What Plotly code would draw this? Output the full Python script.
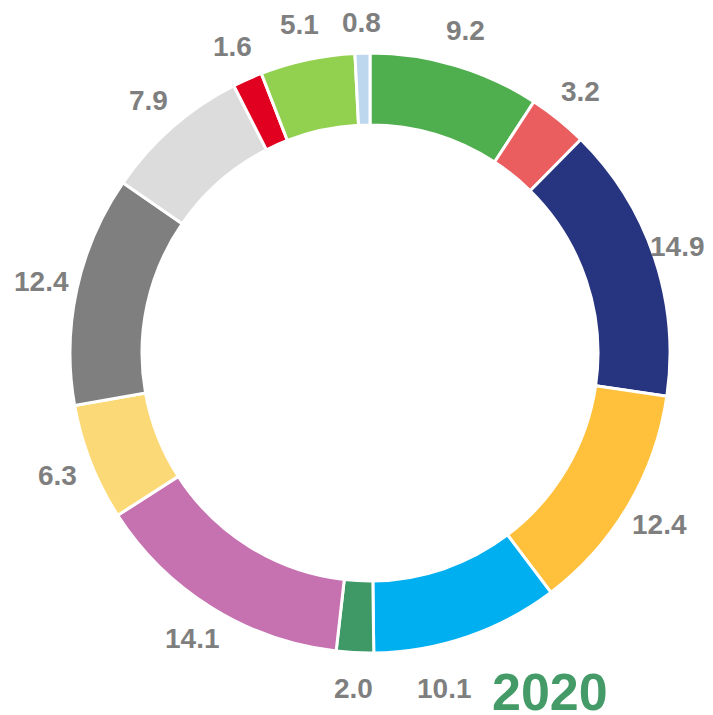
import math
import plotly.graph_objects as go

W, H = 713, 715
OFF = 8  # page body offset of the figure inside the browser window

categories = ["A", "B", "C", "D", "E", "F", "G", "H", "I", "J", "K", "L", "M"]
values = [9.2, 3.2, 14.9, 12.4, 10.1, 2.0, 14.1, 6.3, 12.4, 7.9, 1.6, 5.1, 0.8]
value_labels = ["9.2", "3.2", "14.9", "12.4", "10.1", "2.0", "14.1", "6.3", "12.4", "7.9", "1.6", "5.1", "0.8"]
colors = ["#4FAE4E", "#EB5E5F", "#27347F", "#FFC13C", "#00AFEF", "#3F9966",
          "#C672B0", "#FCD977", "#7F7F7F", "#DCDCDC", "#E10020", "#92D050", "#BDD7EE"]
year_label = "2020"

# layout (screen pixels)
cx, cy, R = 370, 353, 300
label_r = 336
label_size = 28
year_size = 52
year_cx, year_cy = 550, 692
font_family = "Liberation Sans, Arial, sans-serif"


def to_paper(sx, sy):
    return (sx - OFF) / W, 1 - (sy - OFF) / H


def text_width(s, size):
    return sum(0.278 if ch == "." else 0.556 for ch in s) * size


x0p, y1p = to_paper(cx - R, cy - R)
x1p, y0p = to_paper(cx + R, cy + R)

fig = go.Figure(go.Pie(
    labels=categories,
    values=values,
    textinfo="none",
    sort=False,
    direction="clockwise",
    rotation=0,
    hole=0.76,
    marker=dict(colors=colors, line=dict(color="#FFFFFF", width=3)),
    showlegend=False,
    hoverinfo="label+value",
    domain=dict(x=[x0p, x1p], y=[y0p, y1p]),
))

# box of the year caption, used to keep value labels clear of it
yw = text_width(year_label, year_size)
year_box = (year_cx - yw / 2, year_cy - 0.38 * year_size, year_cx + yw / 2, year_cy + 0.38 * year_size)

total = sum(values)
cum = 0.0
for v, lab in zip(values, value_labels):
    mid = (cum + v / 2) / total
    cum += v
    theta = 2 * math.pi * mid
    sx = cx + label_r * math.sin(theta)
    sy = cy - label_r * math.cos(theta)
    hw = text_width(lab, label_size) / 2
    hh = 0.36 * label_size
    # keep inside the window
    sx = min(max(sx, hw + 4), 713 - hw - 8)
    sy = max(sy, hh + 12)
    # keep clear of the year caption
    if (sx + hw > year_box[0] and sx - hw < year_box[2]
            and sy + hh > year_box[1] and sy - hh < year_box[3]):
        sx = year_box[0] - 20 - hw
        sy = max(sy, year_cy - 4)
    px, py = to_paper(sx, sy)
    fig.add_annotation(
        text=lab, x=px, y=py, xref="paper", yref="paper",
        xanchor="center", yanchor="middle", showarrow=False,
        font=dict(family=font_family, size=label_size, color="#7F7F7F", weight="bold"),
    )

px, py = to_paper(year_cx, year_cy)
fig.add_annotation(
    text=year_label, x=px, y=py, xref="paper", yref="paper",
    xanchor="center", yanchor="middle", showarrow=False,
    font=dict(family=font_family, size=year_size, color="#449B67", weight="bold"),
)

fig.update_layout(
    width=W, height=H,
    margin=dict(l=0, r=0, t=0, b=0),
    paper_bgcolor="white", plot_bgcolor="white",
)

fig.write_html("out.html")
